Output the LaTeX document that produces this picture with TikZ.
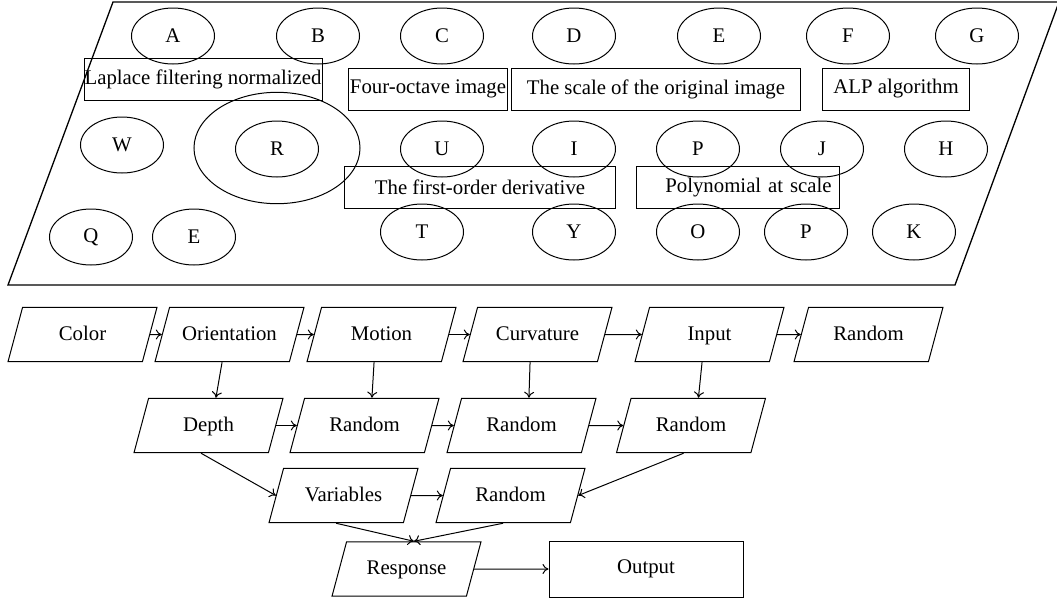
\documentclass[tikz,border=0pt]{standalone}
\usepackage{fontspec}
\setmainfont{Liberation Serif}
\usetikzlibrary{shapes.geometric, arrows.meta}

\tikzset{
  oval/.style={draw, ellipse, minimum width=41.5pt, minimum height=28pt, inner sep=0pt},
  textbox/.style={draw, rectangle, minimum height=21pt, inner xsep=0pt, inner ysep=0pt},
  flowbox/.style={draw, trapezium, trapezium left angle=75, trapezium right angle=105,
    trapezium stretches body, minimum width=74.5pt, text height=1.5ex, text depth=0.25ex,
    inner xsep=2pt, inner ysep=9.6pt},
  outbox/.style={draw, rectangle, minimum width=97pt, minimum height=28pt}
}

\begin{document}
\begin{tikzpicture}[x=0.5pt, y=-0.5pt, line width=0.5pt, font=\fontsize{10.4}{12}\selectfont,
    >={To[length=3pt, width=5pt]}]
  \useasboundingbox (0,0) rectangle (1057,601);

  % Frame
  \draw[line width=0.65pt] (113,2) -- (1059,2) -- (955,285) -- (8,285) -- cycle;

  % Top row
  \node[oval] (a) at (173,36) {A};
  \node[oval] (b) at (318,36) {B};
  \node[oval] (c) at (442,36) {C};
  \node[oval] (d) at (574,36) {D};
  \node[oval] (e1) at (719,36) {E};
  \node[oval] (f) at (848,36) {F};
  \node[oval] (g) at (977,36) {G};

  % Labels
  \node[textbox, minimum width=119pt] (laplace) at (203,79) {Laplace filtering normalized};
  \node[textbox, minimum width=79.5pt] (octave) at (428,89) {Four-octave image};
  \node[textbox, minimum width=144.7pt] (scale) at (656,89) {The scale of the original image};
  \node[textbox, minimum width=73.8pt] (alp) at (896,89) {ALP algorithm};

  % Middle row
  \node[oval] (w) at (122,145) {W};
  \node[oval] (r) at (277,149) {R};
  \node[draw, ellipse, minimum width=83pt, minimum height=55.7pt] (ring) at (277,148) {};
  \node[oval] (u) at (442,149) {U};
  \node[oval] (i) at (574,149) {I};
  \node[oval] (p1) at (698,149) {P};
  \node[oval] (j) at (822,149) {J};
  \node[oval] (h) at (946,149) {H};

  \node[textbox, minimum width=135.5pt] (deriv) at (480,187.5) {The first-order derivative};
  \node[textbox, text width=93.7pt, align=right, inner xsep=4pt] (poly) at (738,187.5) {Polynomial at scale};

  % Bottom row
  \node[oval] (q) at (91,237) {Q};
  \node[oval] (e2) at (194,237) {E};
  \node[oval] (t) at (422,232) {T};
  \node[oval] (y) at (574,232) {Y};
  \node[oval] (o) at (698,232) {O};
  \node[oval] (p2) at (806,232) {P};
  \node[oval] (k) at (914,232) {K};

  % Flow
  \node[flowbox] (color) at (82.5,334.5) {Color};
  \node[flowbox] (orient) at (229.5,334.5) {Orientation};
  \node[flowbox] (motion) at (381.5,334.5) {Motion};
  \node[flowbox] (curv) at (537.5,334.5) {Curvature};
  \node[flowbox] (input) at (709.5,334.5) {Input};
  \node[flowbox] (rand1) at (868.5,334.5) {Random};

  \node[flowbox] (depth) at (208.5,425.5) {Depth};
  \node[flowbox] (rand2) at (364.5,425.5) {Random};
  \node[flowbox] (rand3) at (521.5,425.5) {Random};
  \node[flowbox] (rand4) at (691,425.5) {Random};

  \node[flowbox] (vars) at (343.5,495.5) {Variables};
  \node[flowbox] (rand5) at (510.5,495.5) {Random};

  \node[flowbox] (resp) at (406.5,569) {Response};
  \node[outbox] (output) at (646,569) {Output};

  \draw[->] (color) -- (orient);
  \draw[->] (orient) -- (motion);
  \draw[->] (motion) -- (curv);
  \draw[->] (curv) -- (input);
  \draw[->] (input) -- (rand1);

  \draw[->] (orient.bottom side) -- (depth.top side);
  \draw[->] (motion.bottom side) -- (rand2.top side);
  \draw[->] (curv.bottom side) -- (rand3.top side);
  \draw[->] (input.bottom side) -- (rand4.top side);

  \draw[->] (depth) -- (rand2);
  \draw[->] (rand2) -- (rand3);
  \draw[->] (rand3) -- (rand4);

  \draw[->] (depth.bottom side) -- (vars.left side);
  \draw[->] (rand4.bottom side) -- (rand5.right side);
  \draw[->] (vars) -- (rand5);

  \draw[->] (vars.bottom side) -- (resp.top side);
  \draw[->] (rand5.bottom side) -- (resp.top side);
  \draw[->] (resp) -- (output);

\end{tikzpicture}
\end{document}
